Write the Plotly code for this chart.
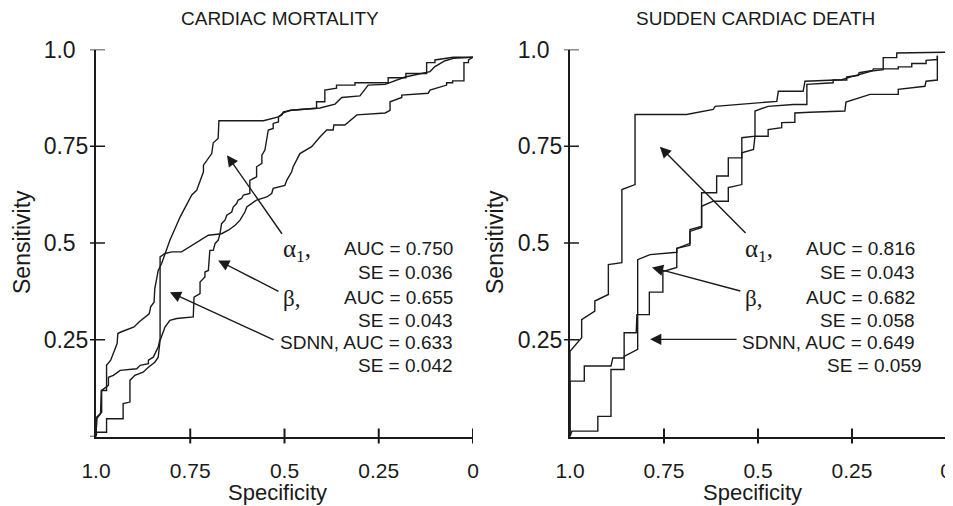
import plotly.graph_objects as go

# ---------------- data (specificity, sensitivity) ----------------
# Cardiac mortality panel
cm_alpha_spec = [1.0, 0.998, 0.988, 0.986, 0.972, 0.972, 0.961, 0.944, 0.942, 0.934, 0.899, 0.886, 0.859, 0.855, 0.846,
                 0.844, 0.835, 0.826, 0.804, 0.777, 0.746, 0.733, 0.715, 0.715, 0.693, 0.689, 0.676, 0.674, 0.556, 0.516,
                 0.503, 0.485, 0.432, 0.406, 0.366, 0.348, 0.300, 0.291, 0.278, 0.233, 0.180, 0.114, 0.101, 0.074, 0.052, 0.0]
cm_alpha_sens = [0.0, 0.046, 0.059, 0.119, 0.119, 0.184, 0.197, 0.240, 0.266, 0.270, 0.283, 0.296, 0.317, 0.335, 0.347,
                 0.382, 0.429, 0.447, 0.507, 0.567, 0.624, 0.636, 0.684, 0.701, 0.731, 0.759, 0.770, 0.816, 0.816, 0.826,
                 0.836, 0.843, 0.847, 0.849, 0.859, 0.876, 0.880, 0.891, 0.908, 0.910, 0.929, 0.943, 0.956, 0.971, 0.977, 0.980]

cm_beta_spec = [1.0, 0.998, 0.972, 0.972, 0.928, 0.928, 0.910, 0.910, 0.897, 0.875, 0.861, 0.844, 0.835, 0.830, 0.817,
                0.804, 0.786, 0.742, 0.740, 0.724, 0.724, 0.711, 0.711, 0.702, 0.698, 0.689, 0.684, 0.676, 0.671, 0.667,
                0.658, 0.653, 0.640, 0.636, 0.627, 0.623, 0.614, 0.609, 0.592, 0.592, 0.574, 0.574, 0.560, 0.560, 0.552,
                0.547, 0.543, 0.530, 0.530, 0.516, 0.516, 0.507, 0.503, 0.481, 0.415, 0.415, 0.393, 0.393, 0.362, 0.362,
                0.313, 0.313, 0.225, 0.225, 0.178, 0.178, 0.123, 0.123, 0.101, 0.101, 0.052, 0.0]
cm_beta_sens = [0.0, 0.011, 0.011, 0.046, 0.046, 0.085, 0.089, 0.145, 0.158, 0.166, 0.179, 0.192, 0.205, 0.248, 0.283,
                0.300, 0.305, 0.309, 0.360, 0.369, 0.399, 0.412, 0.425, 0.429, 0.481, 0.481, 0.499, 0.507, 0.524, 0.550,
                0.559, 0.572, 0.580, 0.593, 0.602, 0.611, 0.615, 0.624, 0.628, 0.662, 0.671, 0.697, 0.706, 0.727, 0.740,
                0.766, 0.792, 0.796, 0.809, 0.813, 0.826, 0.831, 0.839, 0.843, 0.848, 0.865, 0.865, 0.895, 0.900, 0.908,
                0.908, 0.914, 0.914, 0.927, 0.927, 0.938, 0.938, 0.966, 0.966, 0.973, 0.980, 0.980]

cm_sdnn_spec = [1.0, 0.998, 0.985, 0.985, 0.967, 0.967, 0.954, 0.936, 0.892, 0.883, 0.861, 0.861, 0.848, 0.835, 0.830,
                0.830, 0.830, 0.817, 0.799, 0.773, 0.751, 0.724, 0.702, 0.667, 0.649, 0.631, 0.618, 0.605, 0.600, 0.574,
                0.547, 0.534, 0.530, 0.499, 0.494, 0.481, 0.477, 0.459, 0.428, 0.406, 0.388, 0.371, 0.369, 0.340, 0.308,
                0.233, 0.220, 0.220, 0.189, 0.189, 0.119, 0.114, 0.070, 0.070, 0.054, 0.054, 0.024, 0.024, 0.012, 0.012, 0.0]
cm_sdnn_sens = [0.0, 0.050, 0.063, 0.119, 0.132, 0.153, 0.158, 0.171, 0.175, 0.184, 0.188, 0.197, 0.205, 0.231, 0.253,
                0.421, 0.464, 0.473, 0.477, 0.477, 0.490, 0.507, 0.520, 0.524, 0.533, 0.546, 0.559, 0.580, 0.593, 0.611,
                0.619, 0.628, 0.641, 0.649, 0.662, 0.684, 0.697, 0.731, 0.749, 0.774, 0.792, 0.792, 0.805, 0.805, 0.831,
                0.836, 0.843, 0.865, 0.876, 0.882, 0.887, 0.895, 0.908, 0.914, 0.914, 0.919, 0.919, 0.966, 0.966, 0.973, 0.980]

# Sudden cardiac death panel
scd_alpha_spec = [1.0, 1.0, 0.969, 0.969, 0.934, 0.934, 0.898, 0.898, 0.862, 0.862, 0.827, 0.827, 0.690, 0.619, 0.614,
                  0.450, 0.446, 0.380, 0.375, 0.277, 0.247, 0.198, 0.167, 0.167, 0.131, 0.131, 0.0]
scd_alpha_sens = [0.0, 0.220, 0.255, 0.302, 0.324, 0.350, 0.367, 0.444, 0.449, 0.638, 0.651, 0.832, 0.832, 0.845, 0.853,
                  0.866, 0.892, 0.892, 0.918, 0.922, 0.931, 0.944, 0.948, 0.979, 0.979, 0.991, 0.993]

scd_beta_spec = [1.0, 1.0, 0.962, 0.962, 0.891, 0.886, 0.856, 0.856, 0.824, 0.822, 0.789, 0.789, 0.753, 0.753, 0.716,
                 0.716, 0.681, 0.681, 0.650, 0.650, 0.610, 0.610, 0.579, 0.579, 0.543, 0.543, 0.508, 0.508, 0.473, 0.406,
                 0.370, 0.370, 0.300, 0.300, 0.264, 0.264, 0.233, 0.231, 0.195, 0.193, 0.127, 0.127, 0.091, 0.091, 0.053,
                 0.053, 0.023, 0.023]
scd_beta_sens = [0.0, 0.143, 0.143, 0.182, 0.182, 0.203, 0.203, 0.268, 0.268, 0.315, 0.315, 0.373, 0.373, 0.426, 0.437,
                 0.486, 0.494, 0.535, 0.543, 0.630, 0.630, 0.673, 0.673, 0.720, 0.720, 0.772, 0.776, 0.841, 0.853, 0.858,
                 0.858, 0.910, 0.914, 0.921, 0.921, 0.929, 0.933, 0.940, 0.946, 0.950, 0.950, 0.955, 0.955, 0.964, 0.964,
                 0.972, 0.974, 0.984]

scd_sdnn_spec = [1.0, 0.995, 0.926, 0.926, 0.891, 0.891, 0.856, 0.856, 0.820, 0.820, 0.787, 0.716, 0.716, 0.681, 0.681,
                 0.650, 0.650, 0.619, 0.579, 0.579, 0.543, 0.543, 0.512, 0.508, 0.473, 0.473, 0.437, 0.437, 0.402, 0.402,
                 0.362, 0.269, 0.266, 0.233, 0.202, 0.127, 0.127, 0.056, 0.053, 0.023, 0.023]
scd_sdnn_sens = [0.0, 0.014, 0.014, 0.052, 0.052, 0.173, 0.173, 0.207, 0.225, 0.457, 0.470, 0.476, 0.486, 0.499, 0.530,
                 0.540, 0.595, 0.608, 0.608, 0.643, 0.651, 0.733, 0.742, 0.776, 0.776, 0.793, 0.798, 0.811, 0.812, 0.836,
                 0.838, 0.841, 0.864, 0.875, 0.884, 0.884, 0.897, 0.905, 0.918, 0.921, 0.984]

# tick values / labels
x_tickvals = [1.0, 0.75, 0.5, 0.25, 0.0]
x_ticktext = ["1.0", "0.75", "0.5", "0.25", "0"]
y_tickvals = [1.0, 0.75, 0.5, 0.25]
y_ticktext = ["1.0\u2007", "0.75", "0.5\u2007", "0.25"]

panel_titles = ["CARDIAC MORTALITY", "SUDDEN CARDIAC DEATH"]
stats = [
    {"a": "AUC = 0.750", "a_se": "SE = 0.036", "b": "AUC = 0.655", "b_se": "SE = 0.043",
     "s": "SDNN, AUC = 0.633", "s_se": "SE = 0.042"},
    {"a": "AUC = 0.816", "a_se": "SE = 0.043", "b": "AUC = 0.682", "b_se": "SE = 0.058",
     "s": "SDNN, AUC = 0.649", "s_se": "SE = 0.059"},
]
# arrows: (head spec, head sens, tail spec, tail sens)
arrows = [
    [(0.6525, 0.727, 0.504, 0.52), (0.676, 0.455, 0.512, 0.373), (0.804, 0.373, 0.525, 0.248)],
    [(0.761, 0.749, 0.529, 0.522), (0.782, 0.437, 0.543, 0.375), (0.787, 0.251, 0.553, 0.251)],
]

# ---------------- figure ----------------
PAGE_OFF = 8            # default body margin of the html page
W, H = 953 - PAGE_OFF, 506 - PAGE_OFF
SANS = "Liberation Sans, Arial, sans-serif"
SERIF = "Liberation Serif, Times New Roman, serif"
INK = "#1a1a1a"


def PX(px):
    return (px - PAGE_OFF) / W


def PY(py):
    return 1 - (py - PAGE_OFF) / H


xdoms = [[PX(96), PX(473)], [PX(570), PX(946)]]
ydom = [PY(436.5), PY(49.5)]

fig = go.Figure()
curves = [
    [(cm_alpha_spec, cm_alpha_sens), (cm_beta_spec, cm_beta_sens), (cm_sdnn_spec, cm_sdnn_sens)],
    [(scd_alpha_spec, scd_alpha_sens), (scd_beta_spec, scd_beta_sens), (scd_sdnn_spec, scd_sdnn_sens)],
]
for p in range(2):
    xa = "x" if p == 0 else "x2"
    ya = "y" if p == 0 else "y2"
    for xs, ys in curves[p]:
        fig.add_trace(go.Scatter(x=xs, y=ys, mode="lines", xaxis=xa, yaxis=ya, cliponaxis=False,
                                 line=dict(color=INK, width=1.4), showlegend=False, hoverinfo="skip"))

axis_common = dict(showgrid=False, zeroline=False, showline=True, linecolor=INK, linewidth=2,
                   ticks="", automargin=False, fixedrange=True, ticklabeloverflow="allow")
for p in range(2):
    sx = "" if p == 0 else "2"
    fig.update_layout(**{
        f"xaxis{sx}": dict(axis_common, domain=xdoms[p], range=[1.0, 0.0], anchor=f"y{sx}",
                           tickvals=x_tickvals, ticktext=x_ticktext, ticklabelstandoff=14,
                           tickfont=dict(family=SANS, size=21, color=INK)),
        f"yaxis{sx}": dict(axis_common, domain=ydom, range=[0.0, 1.0], anchor=f"x{sx}",
                           tickvals=y_tickvals, ticktext=y_ticktext, ticklabelstandoff=1,
                           tickfont=dict(family=SANS, size=23, color=INK)),
    })

shapes = []
for p in range(2):
    xr = "x" if p == 0 else "x2"
    yr = "y" if p == 0 else "y2"
    x0d, x1d = xdoms[p]
    # x ticks crossing the axis
    for v in x_tickvals[1:]:
        shapes.append(dict(type="line", xref=xr, yref="paper", x0=v, x1=v,
                           y0=ydom[0] - 7 / H, y1=ydom[0] + 8 / H, line=dict(color=INK, width=2)))
    # y ticks crossing the axis
    for v in y_tickvals:
        shapes.append(dict(type="line", xref="paper", yref=yr, x0=x0d - 6 / W, x1=x0d + 9 / W,
                           y0=v, y1=v, line=dict(color=INK, width=1.5)))
# small unlabelled tick at 0 on left panel
shapes.append(dict(type="line", xref="paper", yref="y", x0=xdoms[0][0] - 6 / W, x1=xdoms[0][0],
                   y0=0.0, y1=0.0, line=dict(color=INK, width=1.5)))

annotations = []
title_cx = [280, 755]
spec_cx = [277, 752]
sens_cx = [22, 495]
label_x = [283, 745]
right_x = [455, 917]
rows_y = [248, 272, 297, 320, 342, 365]
for p in range(2):
    xr = "x" if p == 0 else "x2"
    yr = "y" if p == 0 else "y2"
    annotations.append(dict(text=panel_titles[p], xref="paper", yref="paper", x=PX(title_cx[p]), y=PY(18),
                            showarrow=False, font=dict(family=SANS, size=19, color=INK),
                            xanchor="center", yanchor="middle"))
    annotations.append(dict(text="Specificity", xref="paper", yref="paper", x=PX(spec_cx[p]), y=PY(492),
                            showarrow=False, font=dict(family=SANS, size=22, color=INK),
                            xanchor="center", yanchor="middle"))
    annotations.append(dict(text="Sensitivity", xref="paper", yref="paper", x=PX(sens_cx[p]), y=PY(242),
                            showarrow=False, textangle=-90, font=dict(family=SANS, size=23, color=INK),
                            xanchor="center", yanchor="middle"))
    for hx, hy, tx, ty in arrows[p]:
        annotations.append(dict(text="", x=hx, y=hy, xref=xr, yref=yr, ax=tx, ay=ty, axref=xr, ayref=yr,
                                showarrow=True, arrowhead=2, arrowsize=1.6, arrowwidth=1.4, arrowcolor=INK))
    s = stats[p]
    annotations.append(dict(text="\u03b1<sub>1</sub>,", xref="paper", yref="paper", x=PX(label_x[p] - 2), y=PY(250),
                            showarrow=False, xanchor="left", yanchor="middle",
                            font=dict(family=SERIF, size=25, color=INK)))
    annotations.append(dict(text="\u03b2,", xref="paper", yref="paper", x=PX(label_x[p] - 2), y=PY(298),
                            showarrow=False, xanchor="left", yanchor="middle",
                            font=dict(family=SERIF, size=23, color=INK)))
    texts = [s["a"], s["a_se"], s["b"], s["b_se"], s["s"], s["s_se"]]
    for i, t in enumerate(texts):
        rx = right_x[p] + (7 if (p == 1 and i == 5) else 0)
        annotations.append(dict(text=t, xref="paper", yref="paper", x=PX(rx), y=PY(rows_y[i]),
                                showarrow=False, xanchor="right", yanchor="middle",
                                font=dict(family=SANS, size=19, color=INK)))

fig.update_layout(width=W, height=H, margin=dict(l=0, r=0, t=0, b=0),
                  paper_bgcolor="white", plot_bgcolor="white",
                  shapes=shapes, annotations=annotations, showlegend=False)

fig.write_html("out.html")
